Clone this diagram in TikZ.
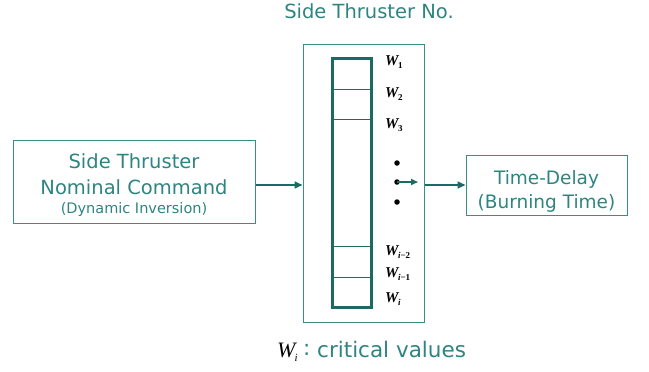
\documentclass[tikz,border=0pt]{standalone}
\usepackage{fontspec}
\setmainfont{DejaVu Sans}
\newfontfamily\wfont{Liberation Serif}
\usetikzlibrary{arrows.meta}
\definecolor{tealtext}{RGB}{46,132,128}
\definecolor{tealline}{RGB}{28,106,101}
\definecolor{tealbox}{RGB}{60,140,135}
\newcommand{\wlabel}[1]{{\wfont\bfseries\itshape W\kern-0.5pt\raisebox{-3.5pt}{\fontsize{9}{9}\selectfont\upshape #1}}}
\tikzset{
  boxstyle/.style={draw=tealbox, line width=1pt},
  conn/.style={draw=tealline, line width=1.6pt, -{Triangle[length=8pt,width=7pt]}},
  wlab/.style={font=\fontsize{15}{15}\selectfont, text=black, inner sep=0pt, anchor=base west},
  dotn/.style={circle, fill=black, inner sep=0pt, minimum size=5.5pt},
  ttext/.style={text=tealtext, inner sep=0pt, anchor=base},
}
\begin{document}
\begin{tikzpicture}[x=1pt,y=-1pt]
\useasboundingbox (0,0) rectangle (649,372);
% title
\node[ttext, font=\fontsize{19.5}{19.5}\selectfont] (title) at (369,19) {Side Thruster No.};
% outer box
\node[boxstyle, minimum width=121pt, minimum height=278pt, inner sep=0pt] (outer) at (363.5,183) {};
% inner column
\draw[tealline, line width=3pt] (332,58) rectangle (371,307);
\foreach \yy in {89,119,246,277} \draw[tealline, line width=1pt] (332,\yy) -- (371,\yy);
% labels
\node[wlab] (w1) at (385,65) {\wlabel{1}};
\node[wlab] (w2) at (385,97) {\wlabel{2}};
\node[wlab] (w3) at (385,128) {\wlabel{3}};
\node[wlab] (wi2) at (385,255) {\wlabel{\itshape i\upshape −2}};
\node[wlab] (wi1) at (385,277) {\wlabel{\itshape i\upshape −1}};
\node[wlab] (wi) at (385,302) {\wlabel{\itshape i}};
% dots
\node[dotn] (d1) at (397,163) {};
\node[dotn] (d2) at (397,182) {};
\node[dotn] (d3) at (397,202) {};
\coordinate (dend) at (418,182);
\draw[draw=tealline, line width=1.6pt, -{Triangle[length=7pt,width=6pt]}] (d2.center) -- (dend);
% left box
\node[boxstyle, minimum width=242pt, minimum height=83pt, inner sep=0pt] (left) at (134,181.5) {};
\node[ttext, font=\fontsize{19.5}{19.5}\selectfont] (lt1) at (134,168) {Side Thruster};
\node[ttext, font=\fontsize{19.5}{19.5}\selectfont] (lt2) at (134,194) {Nominal Command};
\node[ttext, font=\fontsize{14.5}{14.5}\selectfont] (ls) at (134,213) {(Dynamic Inversion)};
% right box
\node[boxstyle, minimum width=161pt, minimum height=60pt, inner sep=0pt] (right) at (546.5,185) {};
\node[ttext, font=\fontsize{18.5}{18.5}\selectfont] (rt1) at (546.5,184) {Time-Delay};
\node[ttext, font=\fontsize{18.5}{18.5}\selectfont] (rt2) at (546.5,208) {(Burning Time)};
% connectors
\draw[conn] (left.east |- 0,185) -- (outer.west |- 0,185);
\draw[conn] (outer.east |- 0,185) -- (right.west |- 0,185);
% bottom legend
\node[anchor=base west, inner sep=0pt, font=\fontsize{22}{22}\selectfont] (legw) at (277,357) {{\wfont\itshape W\kern-1pt\raisebox{-4pt}{\fontsize{11}{11}\selectfont i}}};
\node[ttext, anchor=base west, font=\fontsize{21.5}{21.5}\selectfont] (legc) at (303,355) {:};
\node[ttext, anchor=base west, font=\fontsize{21.5}{21.5}\selectfont] (legt) at (317,357) {critical values};
\end{tikzpicture}
\end{document}
